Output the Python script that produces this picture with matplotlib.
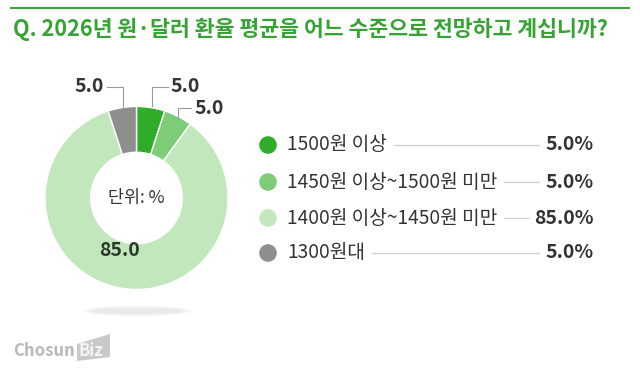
import matplotlib
matplotlib.use("Agg")
import matplotlib.pyplot as plt
from matplotlib.patches import Ellipse, Polygon, Circle

plt.rcParams['font.family'] = ['Noto Sans CJK KR', 'DejaVu Sans']

title = "Q. 2026년 원·달러 환율 평균을 어느 수준으로 전망하고 계십니까?"
categories = ["1500원 이상", "1450원 이상~1500원 미만", "1400원 이상~1450원 미만", "1300원대"]
values = [5.0, 5.0, 85.0, 5.0]
colors = ["#2fad2a", "#7dcc78", "#c2e7bd", "#8e8e8e"]

W, H = 640, 376
fig = plt.figure(figsize=(W / 100, H / 100), dpi=100)
ax = fig.add_axes([0, 0, 1, 1])

def Y(y):
    return H - y

# top rule + title
ax.plot([10, 630], [Y(8), Y(8)], color="#3aa83a", lw=1.5, solid_capstyle="butt")
ax.text(13, Y(29), title, color="#37a335", fontsize=15.6, fontweight="bold",
        ha="left", va="center")

# shadow under donut
for i, a in enumerate([0.25, 0.35, 0.5, 0.7]):
    ax.add_patch(Ellipse((136.5, Y(311)), 108 - i * 6, 11 - i * 2, color="#e8e8e8",
                         alpha=a, lw=0))

# donut
cx, cy, R = 136.5, 198, 91.5
wedges, _ = ax.pie(values, colors=colors, startangle=90, counterclock=False,
                   center=(cx, Y(cy)), radius=R,
                   wedgeprops=dict(width=R * 0.5, edgecolor="white", linewidth=1))
ax.set_xlim(0, W)
ax.set_ylim(0, H)

ax.text(cx, Y(cy), "단위: %", fontsize=12.5, color="#333333", ha="center", va="center")

# data labels with leaders
lc = "#9a9a9a"
lab_col = "#333333"
# gray (1300)
ax.plot([107, 123, 123], [Y(87), Y(87), Y(107)], color=lc, lw=0.8)
ax.text(104, Y(87), f"{values[3]:.1f}", fontsize=14, fontweight="bold", color=lab_col,
        ha="right", va="center")
# 1500
ax.plot([152, 152, 168], [Y(106), Y(87), Y(87)], color=lc, lw=0.8)
ax.text(170, Y(87), f"{values[0]:.1f}", fontsize=14, fontweight="bold", color=lab_col,
        ha="left", va="center")
# 1450
ax.plot([178, 178, 191], [Y(118), Y(108), Y(108)], color=lc, lw=0.8)
ax.text(194, Y(108), f"{values[1]:.1f}", fontsize=14, fontweight="bold", color=lab_col,
        ha="left", va="center")
# 1400
ax.text(119, Y(250), f"{values[2]:.1f}", fontsize=14, fontweight="bold", color="#2c3a2c",
        ha="center", va="center")

# legend
rows_y = [145, 182, 218, 253]
renderer = fig.canvas.get_renderer()
for cat, v, c, ry in zip(categories, values, colors, rows_y):
    ax.add_patch(Circle((268, Y(ry)), 8.8, color=c, lw=0))
    t = ax.text(287, Y(ry), cat, fontsize=13.8, color="#333333", ha="left", va="center")
    vt = ax.text(594, Y(ry), f"{v:.1f}%", fontsize=14, fontweight="bold", color="#333333",
                 ha="right", va="center")
    bb = t.get_window_extent(renderer)
    vb = vt.get_window_extent(renderer)
    ax.plot([bb.x1 + 7, vb.x0 - 7], [Y(ry), Y(ry)], color="#cfcfcf", lw=0.9)

# logo
ax.text(13, Y(351), "Chosun", fontsize=12, fontweight="semibold", color="#b8b8b8",
        ha="left", va="center")
ax.add_patch(Polygon([(77, Y(344)), (110, Y(334)), (110, Y(357)), (77, Y(361))],
                     closed=True, color="#c9c9c9", lw=0))
ax.text(78, Y(351), "Biz", fontsize=12, fontweight="bold", color="#f4f4f4",
        ha="left", va="center")

ax.set_axis_off()
fig.savefig("out.png", dpi=100, facecolor="white")
